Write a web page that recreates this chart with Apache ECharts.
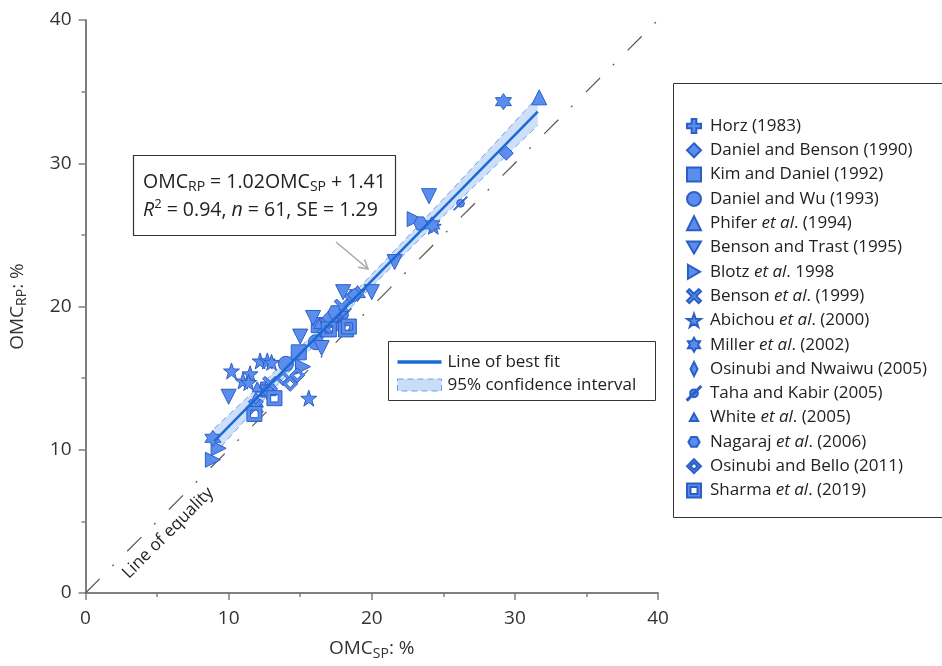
<!DOCTYPE html>
<html>
<head>
<meta charset="utf-8">
<script src="https://cdn.jsdelivr.net/npm/echarts@6/dist/echarts.min.js"></script>
<style>
  html, body { margin: 0; padding: 0; background: #fff; }
  #main { width: 942px; height: 666px; }
</style>
</head>
<body>
<div id="main"></div>
<script>
// study names (legend order)
var studies = [
  'Horz (1983)', 'Daniel and Benson (1990)', 'Kim and Daniel (1992)', 'Daniel and Wu (1993)',
  'Phifer et al. (1994)', 'Benson and Trast (1995)', 'Blotz et al. 1998', 'Benson et al. (1999)',
  'Abichou et al. (2000)', 'Miller et al. (2002)', 'Osinubi and Nwaiwu (2005)', 'Taha and Kabir (2005)',
  'White et al. (2005)', 'Nagaraj et al. (2006)', 'Osinubi and Bello (2011)', 'Sharma et al. (2019)'
];

// [OMC_SP, OMC_RP]
var horz = [[17.3, 19.1], [12.4, 14.2]];
var danielBenson = [[29.4, 30.7], [16.6, 18.3], [18.6, 20.7]];
var kimDaniel = [[14.9, 16.8], [16.3, 18.7]];
var danielWu = [[14.0, 16.0], [16.1, 17.5]];
var phifer = [[31.7, 34.6], [11.9, 13.5], [12.8, 14.3]];
var bensonTrast = [[10.0, 13.7], [12.7, 14.0], [15.0, 17.9], [15.9, 19.2], [16.5, 17.1], [18.0, 21.0], [20.0, 21.0], [21.6, 23.1], [24.0, 27.7]];
var blotz = [[8.9, 9.3], [9.3, 10.1], [15.2, 15.8], [16.9, 18.7], [23.0, 26.1]];
var bensonEtAl = [[11.9, 13.0], [12.9, 14.6], [16.7, 18.6], [17.7, 18.6], [17.9, 20.0]];
var abichou = [[10.2, 15.5], [11.0, 14.8], [11.5, 15.3], [11.4, 14.7], [12.2, 16.2], [12.7, 16.2], [13.0, 16.1], [15.6, 13.6], [24.3, 25.6]];
var miller = [[8.9, 10.8], [17.5, 19.4], [19.0, 20.9], [24.2, 25.7], [29.2, 34.3]];
var osinubiNwaiwu = [[17.0, 19.2], [18.8, 20.8]];
var tahaKabir = [[18.1, 19.4], [26.2, 27.2]];
var white = [[16.3, 18.8], [12.0, 14.4]];
var nagaraj = [[17.4, 19.6], [23.4, 25.8]];
var osinubiBello = [[13.8, 15.0], [14.3, 14.6], [14.8, 15.2]];
var sharma = [[11.8, 12.5], [13.2, 13.6], [18.2, 18.4], [18.4, 18.6], [17.0, 18.4]];

// fit line and 95% band
var fitLine = [[9.0, 10.6], [31.6, 33.6]];
var bandX = [9, 12, 15, 18, 21, 24, 27, 30, 31.6];
var bandLow = [9.7, 13.0, 16.26, 19.39, 22.38, 25.34, 28.25, 31.11, 32.64];
var bandHigh = [11.49, 14.3, 17.16, 20.15, 23.28, 26.44, 29.65, 32.91, 34.64];
var equality = [[0, 0], [40, 40]];

var xTicks = { min: 0, max: 40, interval: 10 };
var yTicks = { min: 0, max: 40, interval: 10 };

var studyData = [horz, danielBenson, kimDaniel, danielWu, phifer, bensonTrast, blotz, bensonEtAl,
  abichou, miller, osinubiNwaiwu, tahaKabir, white, nagaraj, osinubiBello, sharma];

// marker shapes
var symbols = [
  'path://M-3,-9H3V-3H9V3H3V9H-3V3H-9V-3H-3Z',
  'diamond',
  'rect',
  'circle',
  'triangle',
  'path://M-10,-8.66L10,-8.66L0,8.66Z',
  'path://M-8.66,-10L8.66,0L-8.66,10Z',
  'path://M-6,-9L0,-3L6,-9L9,-6L3,0L9,6L6,9L0,3L-6,9L-9,6L-3,0L-9,-6Z',
  'path://M0,-10L2.35,-3.24L9.51,-3.09L3.8,1.24L5.88,8.09L0,4L-5.88,8.09L-3.8,1.24L-9.51,-3.09L-2.35,-3.24Z',
  'path://M0,-10L2.89,-5L8.66,-5L5.77,0L8.66,5L2.89,5L0,10L-2.89,5L-8.66,5L-5.77,0L-8.66,-5L-2.89,-5Z',
  'path://M0,-10L5,0L0,10L-5,0Z',
  'path://M-5,0A5,5 0 1,1 5,0A5,5 0 1,1 -5,0ZM-9,8L8,-9L9,-8L-8,9Z',
  'triangle',
  'path://M-10,0L-5,-8.66L5,-8.66L10,0L5,8.66L-5,8.66Z',
  'path://M0,-10L10,0L0,10L-10,0ZM0,-5L-5,0L0,5L5,0Z',
  'path://M-10,-10H10V10H-10ZM-5,-5V5H5V-5Z'
];
var sizes = [15, 14, 15, 15, 15, 15, 15, 15, 16, 16, 14, 14, 10, 13, 15, 15];
// legend icons: smaller triangle / hexagon padded inside a larger box
var legendIcons = symbols.slice();
legendIcons[12] = 'path://M0,-6L6,5L-6,5ZM-10,-10L-10,-10M10,10L10,10';
legendIcons[13] = 'path://M-8,0L-4,-7L4,-7L8,0L4,7L-4,7ZM-10,-10L-10,-10M10,10L10,10';

var FONT = 'Open Sans';
var fill = '#5b8def';
var edge = '#2b5fc6';

var series = [];

// line of equality
series.push({
  name: 'equality', type: 'line', data: equality, symbol: 'none', silent: true, z: 1,
  lineStyle: { color: '#555', width: 1.2, type: [20, 18, 2, 19] }
});

// confidence band
series.push({
  name: '95% confidence interval', type: 'custom', z: 2, silent: true,
  data: bandX.map(function (x, i) { return [x, bandLow[i], bandHigh[i]]; }),
  itemStyle: { color: '#c9dcf8' },
  renderItem: function (params, api) {
    if (params.dataIndex !== 0) return null;
    var pts = [];
    for (var i = 0; i < bandX.length; i++) pts.push(api.coord([bandX[i], bandLow[i]]));
    for (var j = bandX.length - 1; j >= 0; j--) pts.push(api.coord([bandX[j], bandHigh[j]]));
    return { type: 'polygon', shape: { points: pts }, style: { fill: '#c9dcf8', opacity: 0.9 } };
  }
});
series.push({
  name: 'bandLow', type: 'line', symbol: 'none', silent: true, z: 3,
  data: bandX.map(function (x, i) { return [x, bandLow[i]]; }),
  lineStyle: { color: '#6e9fee', width: 1, type: [6, 4] }
});
series.push({
  name: 'bandHigh', type: 'line', symbol: 'none', silent: true, z: 3,
  data: bandX.map(function (x, i) { return [x, bandHigh[i]]; }),
  lineStyle: { color: '#6e9fee', width: 1, type: [6, 4] }
});

// studies
studies.forEach(function (name, i) {
  series.push({
    name: name, type: 'scatter', data: studyData[i], z: 5,
    symbol: symbols[i], symbolSize: sizes[i],
    itemStyle: { color: fill, borderColor: edge, borderWidth: 1, opacity: 1 }
  });
});

// fit line on top
series.push({
  name: 'Line of best fit', type: 'line', data: fitLine, symbol: 'none', z: 6,
  lineStyle: { color: '#1a6ad4', width: 2.5 },
  itemStyle: { color: '#1a6ad4' }
});

function legendFmt(name) {
  var k = name.indexOf('et al');
  if (k < 0) return '{n|' + name + '}';
  return '{n|' + name.slice(0, k) + '}{i|et al}{n|' + name.slice(k + 5) + '}';
}

var axisCommon = {
  type: 'value',
  axisLine: { show: true, lineStyle: { color: '#7f7f7f', width: 2 } },
  axisTick: { show: true, length: 7, lineStyle: { color: '#7f7f7f', width: 1.5 } },
  minorTick: { show: true, splitNumber: 2, length: 4, lineStyle: { color: '#7f7f7f', width: 1.5 } },
  splitLine: { show: false },
  minorSplitLine: { show: false },
  axisLabel: { fontSize: 19, color: '#333', fontFamily: FONT },
  nameLocation: 'middle',
  nameTextStyle: {
    fontFamily: FONT, color: '#333',
    rich: {
      a: { fontSize: 19, fontFamily: FONT, color: '#333' },
      s: { fontSize: 14, fontFamily: FONT, color: '#333', padding: [10, 0, 0, 0] }
    }
  }
};

var option = {
  backgroundColor: '#fff',
  animation: false,
  grid: { left: 85, top: 20, width: 573, height: 574 },
  xAxis: Object.assign({}, axisCommon, {
    min: xTicks.min, max: xTicks.max, interval: xTicks.interval,
    axisLabel: Object.assign({}, axisCommon.axisLabel, { margin: 16 }),
    name: '{a|OMC}{s|SP}{a|: %}', nameGap: 44
  }),
  yAxis: Object.assign({}, axisCommon, {
    min: yTicks.min, max: yTicks.max, interval: yTicks.interval,
    axisLabel: Object.assign({}, axisCommon.axisLabel, { margin: 14 }),
    name: '{a|OMC}{s|RP}{a|: %}', nameGap: 56
  }),
  legend: [{
    data: studies.map(function (s, i) {
      return { name: s, icon: legendIcons[i] };
    }),
    orient: 'vertical', left: 681, top: 112,
    itemWidth: 14, itemHeight: 14, itemGap: 6.3,
    selectedMode: false,
    formatter: legendFmt,
    textStyle: {
      fontSize: 17, color: '#222', fontFamily: FONT, lineHeight: 18, padding: [0, 0, 0, 4],
      rich: {
        n: { fontSize: 17, color: '#222', fontFamily: FONT, lineHeight: 18 },
        i: { fontSize: 17, color: '#222', fontFamily: FONT, fontStyle: 'italic', lineHeight: 18 }
      }
    }
  }, {
    data: [
      { name: 'Line of best fit', icon: 'path://M0,0H40V3H0Z', itemStyle: { color: '#1a6ad4' } },
      { name: '95% confidence interval', icon: 'rect',
        itemStyle: { color: '#c9dcf8', borderColor: '#6e9fee', borderWidth: 1, borderType: [6, 4] } }
    ],
    orient: 'vertical', left: 392, top: 348,
    itemWidth: 44, itemHeight: 12, itemGap: 5,
    selectedMode: false,
    textStyle: { fontSize: 17, color: '#222', fontFamily: FONT, lineHeight: 18, padding: [0, 0, 0, 1] }
  }],
  graphic: [
    { type: 'rect', shape: { x: 673.5, y: 83.5, width: 280, height: 434 },
      style: { fill: 'none', stroke: '#333', lineWidth: 1 }, z: 0 },
    { type: 'rect', shape: { x: 388.5, y: 341.5, width: 267, height: 59 },
      style: { fill: '#fff', stroke: '#333', lineWidth: 1 }, z: 0 },
    { type: 'rect', shape: { x: 133.5, y: 155.5, width: 262, height: 80 },
      style: { fill: '#fff', stroke: '#333', lineWidth: 1.2 }, z: 10 },
    { type: 'text', x: 143, y: 168, z: 11,
      style: {
        text: '{a|OMC}{s|RP}{a| = 1.02OMC}{s|SP}{a| + 1.41}\n{i|R}{p|2}{a| = 0.94, }{i|n}{a| = 61, SE = 1.29}',
        fill: '#222', fontFamily: FONT,
        rich: {
          a: { fontSize: 19.5, fontFamily: FONT, fill: '#222', lineHeight: 28 },
          i: { fontSize: 19.5, fontFamily: FONT, fill: '#222', fontStyle: 'italic', lineHeight: 28 },
          s: { fontSize: 14, fontFamily: FONT, fill: '#222', padding: [11, 0, 0, 0] },
          p: { fontSize: 13, fontFamily: FONT, fill: '#222', padding: [0, 0, 11, 0] }
        }
      }
    },
    { type: 'line', z: 10, shape: { x1: 336, y1: 242, x2: 367, y2: 268 },
      style: { stroke: '#a8a8a8', lineWidth: 1.5 } },
    { type: 'polyline', z: 10, shape: { points: [[364.6, 259.6], [368, 269], [358.1, 267.3]] },
      style: { stroke: '#a8a8a8', lineWidth: 1.5, fill: 'none' } },
    { type: 'text', x: 168, y: 533, rotation: Math.PI / 4, z: 4,
      style: { text: 'Line of equality', fontSize: 17, fontFamily: FONT, fill: '#222',
        align: 'center', verticalAlign: 'middle' } }
  ],
  series: series
};

var chart = echarts.init(document.getElementById('main'));
chart.setOption(option);
</script>
</body>
</html>
